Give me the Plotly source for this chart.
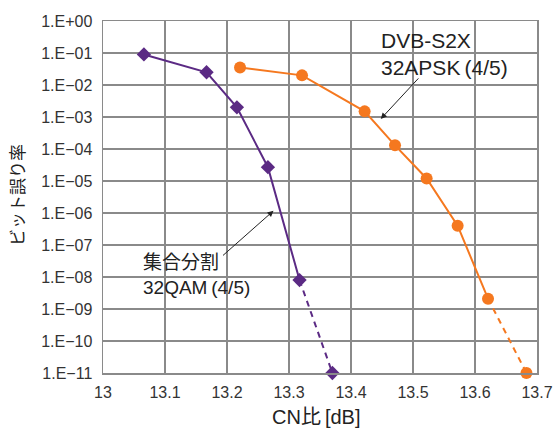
import plotly.graph_objects as go

# Data
qam_x = [13.066, 13.167, 13.216, 13.266, 13.317, 13.370]
qam_y = [9.0e-2, 2.5e-2, 2.0e-3, 2.7e-5, 8.0e-9, 1.0e-11]
apsk_x = [13.221, 13.321, 13.422, 13.471, 13.522, 13.572, 13.621, 13.683]
apsk_y = [3.5e-2, 2.0e-2, 1.5e-3, 1.3e-4, 1.2e-5, 4.0e-7, 2.1e-9, 1.0e-11]
qam_solid_n = 5
apsk_solid_n = 7

x_ticks = [13.0, 13.1, 13.2, 13.3, 13.4, 13.5, 13.6, 13.7]
x_ticktext = ["13", "13.1", "13.2", "13.3", "13.4", "13.5", "13.6", "13.7"]
y_exps = list(range(0, -12, -1))
y_ticktext = ["1.E+00"] + ["1.E\u2212%02d" % (-e) for e in y_exps[1:]]

PURPLE = "#5b2a84"
ORANGE = "#f5781f"
GRID = "#8a8a8a"
TXT = "#222222"
FONT = "Liberation Sans, Arial, Noto Sans CJK JP, sans-serif"

W, H = 555, 428
PL, PR, PT, PB = 103, 537, 21, 373          # plot box in window pixels
L, T, R, B = PL, PT, W - PR, H - PB
PW, PH = PR - PL, PB - PT

def px(xp):
    return (xp - PL) / PW

def py(yp):
    return 1 - (yp - PT) / PH

fig = go.Figure()

def add_series(xs, ys, n_solid, color, symbol, size):
    fig.add_trace(go.Scatter(x=xs[:n_solid], y=ys[:n_solid], mode="lines",
                             line=dict(color=color, width=2), cliponaxis=False,
                             showlegend=False, hoverinfo="skip"))
    fig.add_trace(go.Scatter(x=xs[n_solid - 1:], y=ys[n_solid - 1:], mode="lines",
                             line=dict(color=color, width=2, dash="6px,5px"), cliponaxis=False,
                             showlegend=False, hoverinfo="skip"))
    fig.add_trace(go.Scatter(x=xs, y=ys, mode="markers",
                             marker=dict(color=color, symbol=symbol, size=size),
                             cliponaxis=False, showlegend=False))

add_series(qam_x, qam_y, qam_solid_n, PURPLE, "diamond", 11)
add_series(apsk_x, apsk_y, apsk_solid_n, ORANGE, "circle", 12)

# Arrows
fig.add_annotation(x=13.448, y=-3.06, xref="x", yref="y", ax=39, ay=-42,
                   axref="pixel", ayref="pixel", showarrow=True, arrowhead=2,
                   arrowsize=1.2, arrowwidth=1, arrowcolor=TXT, text="")
fig.add_annotation(x=13.275, y=-5.93, xref="x", yref="y", ax=-52, ay=46,
                   axref="pixel", ayref="pixel", showarrow=True, arrowhead=2,
                   arrowsize=1.2, arrowwidth=1, arrowcolor=TXT, text="")
# Series labels
fig.add_annotation(x=px(379), y=py(27), xref="paper", yref="paper",
                   xanchor="left", yanchor="top", align="left", showarrow=False,
                   text="DVB-S2X<br>32APSK\u2009(4/5)",
                   font=dict(family=FONT, size=21, color=TXT))
fig.add_annotation(x=px(141), y=py(250), xref="paper", yref="paper",
                   xanchor="left", yanchor="top", align="left", showarrow=False,
                   text="集合分割<br>32QAM\u2009(4/5)",
                   font=dict(family=FONT, size=19, color=TXT))
# Axis titles
fig.add_annotation(x=px(316), y=py(417), xref="paper", yref="paper",
                   xanchor="center", yanchor="middle", showarrow=False,
                   text="CN比\u2009[dB]", font=dict(family=FONT, size=20, color=TXT))
fig.add_annotation(x=px(18), y=py(195), xref="paper", yref="paper",
                   xanchor="center", yanchor="middle", showarrow=False, textangle=-90,
                   text="ビット誤り率", font=dict(family=FONT, size=17, color=TXT))

axis_common = dict(showgrid=True, gridcolor=GRID, gridwidth=1.5, showline=True,
                   linecolor=GRID, linewidth=1.5, mirror=True, zeroline=False,
                   ticks="", automargin=False, ticklabeloverflow="allow",
                   tickfont=dict(family=FONT, size=16, color="#333333"))

fig.update_xaxes(range=[13.0, 13.7], tickvals=x_ticks, ticktext=x_ticktext,
                 ticklabelstandoff=4, **axis_common)
fig.update_yaxes(type="log", range=[-11, 0], tickvals=[10.0 ** e for e in y_exps],
                 ticktext=y_ticktext, ticklabelstandoff=6, **axis_common)

fig.update_layout(width=W, height=H, margin=dict(l=L, r=R, t=T, b=B),
                  plot_bgcolor="white", paper_bgcolor="white",
                  font=dict(family=FONT), hovermode=False)

fig.write_html("out.html", config={"displayModeBar": False, "staticPlot": True},
               post_script="document.body.style.margin='0';document.body.style.overflow='hidden';")
